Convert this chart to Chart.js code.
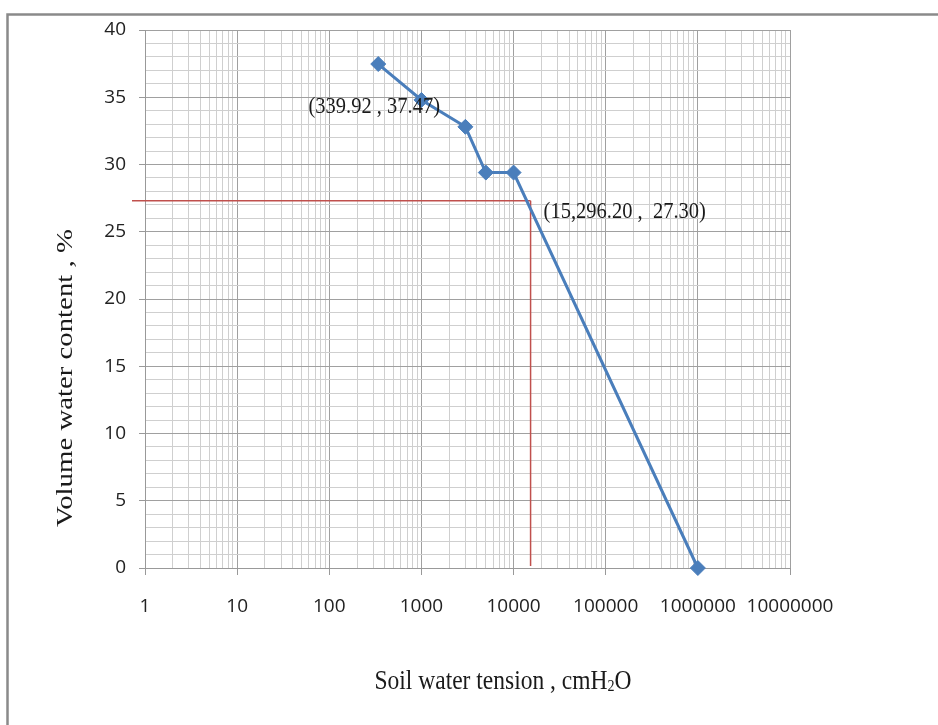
<!DOCTYPE html>
<html>
<head>
<meta charset="utf-8">
<script src="https://cdn.jsdelivr.net/npm/chart.js@4/dist/chart.umd.min.js"></script>
<style>
  html, body { margin: 0; padding: 0; background: #ffffff; }
  canvas { display: block; }
</style>
</head>
<body>
<canvas id="swcc" width="938" height="725"></canvas>
<script>
// Soil water retention curve: tension (cmH2O, log scale) vs volumetric water content (%)
const tensionValues = [339.92, 1000, 3000, 5000, 10000, 1000000];
const waterContent  = [37.47, 34.8, 32.8, 29.4, 29.4, 0];

// Field-capacity reading marked with guide lines
const fieldCapacity = { tension: 15296.20, water: 27.30 };

// Annotation texts
const pointLabels = ['(339.92 , 37.47)', '(15,296.20 ,  27.30)'];

// Axis ticks
const xDecadeLabels = ['1', '10', '100', '1000', '10000', '100000', '1000000', '10000000'];
const yMajorTicks = [0, 5, 10, 15, 20, 25, 30, 35, 40];

const xTitle = ['Soil water tension , cmH', '2', 'O'];
const yTitle = 'Volume water content , %';

const SERIES_BLUE = '#4a7ebb';
const GUIDE_RED = '#c0504d';
const GRID_MAJOR = '#a0a0a0';
const GRID_MINOR = '#cfcfcf';
const TICK_FONT = "'Open Sans', 'Liberation Sans', sans-serif";
const SERIF = "'Liberation Serif', 'Times New Roman', serif";

const isDecade = v => Math.abs(Math.log10(v) - Math.round(Math.log10(v))) < 1e-9;

const decorations = {
  id: 'decorations',
  beforeDatasetsDraw(chart) {
    const { ctx, chartArea, scales: { x, y } } = chart;
    const px = x.getPixelForValue(fieldCapacity.tension);
    const py = y.getPixelForValue(fieldCapacity.water);
    ctx.save();
    ctx.strokeStyle = GUIDE_RED;
    ctx.lineWidth = 1.5;
    ctx.beginPath();
    ctx.moveTo(chartArea.left - 13, py);
    ctx.lineTo(px, py);
    ctx.moveTo(px, py);
    ctx.lineTo(px, chartArea.bottom - 2);
    ctx.stroke();
    ctx.restore();
  },
  afterDraw(chart) {
    const { ctx, scales: { x, y } } = chart;
    ctx.save();

    // outer frame (top and left edges)
    ctx.strokeStyle = '#8a8a8a';
    ctx.lineWidth = 2.5;
    ctx.beginPath();
    ctx.moveTo(chart.width, 14.5);
    ctx.lineTo(7.5, 14.5);
    ctx.lineTo(7.5, chart.height);
    ctx.stroke();

    ctx.fillStyle = '#1a1a1a';
    ctx.textBaseline = 'middle';

    // point annotations
    ctx.font = '20.5px ' + SERIF;
    const p1x = x.getPixelForValue(tensionValues[0]);
    const p1y = y.getPixelForValue(waterContent[0]);
    ctx.save();
    ctx.translate(p1x - 4, p1y + 43);
    ctx.scale(1, 1.17);
    ctx.textAlign = 'center';
    ctx.fillText(pointLabels[0], 0, 0);
    ctx.restore();

    const fx = x.getPixelForValue(fieldCapacity.tension);
    const fy = y.getPixelForValue(fieldCapacity.water);
    ctx.save();
    ctx.translate(fx + 13, fy + 11);
    ctx.scale(1, 1.17);
    ctx.textAlign = 'left';
    ctx.fillText(pointLabels[1], 0, 0);
    ctx.restore();

    // x axis title with subscript
    ctx.save();
    const fs = 23.5;
    ctx.font = fs + 'px ' + SERIF;
    const w0 = ctx.measureText(xTitle[0]).width;
    ctx.font = (fs * 0.6) + 'px ' + SERIF;
    const w1 = ctx.measureText(xTitle[1]).width;
    ctx.font = fs + 'px ' + SERIF;
    const w2 = ctx.measureText(xTitle[2]).width;
    const total = w0 + w1 + w2;
    ctx.translate(503, 682);
    ctx.scale(1, 1.17);
    ctx.textAlign = 'left';
    let cx = -total / 2;
    ctx.fillText(xTitle[0], cx, 0);
    cx += w0;
    ctx.font = (fs * 0.6) + 'px ' + SERIF;
    ctx.fillText(xTitle[1], cx, 4);
    cx += w1;
    ctx.font = fs + 'px ' + SERIF;
    ctx.fillText(xTitle[2], cx, 0);
    ctx.restore();

    // y axis title
    ctx.save();
    ctx.font = '24px ' + SERIF;
    ctx.translate(66, 378);
    ctx.rotate(-Math.PI / 2);
    ctx.scale(1.2, 1);
    ctx.textAlign = 'center';
    ctx.fillText(yTitle, 0, 0);
    ctx.restore();

    ctx.restore();
  }
};

new Chart(document.getElementById('swcc'), {
  type: 'line',
  data: {
    datasets: [{
      data: tensionValues.map((t, i) => ({ x: t, y: waterContent[i] })),
      borderColor: SERIES_BLUE,
      backgroundColor: SERIES_BLUE,
      borderWidth: 3,
      pointStyle: 'rectRot',
      pointRadius: 7.5,
      pointHoverRadius: 7.5,
      pointBorderWidth: 1,
      tension: 0,
      fill: false,
      clip: false
    }]
  },
  options: {
    responsive: false,
    animation: false,
    events: [],
    layout: { padding: { left: 0, top: 30, right: 148, bottom: 0 } },
    plugins: { legend: { display: false }, tooltip: { enabled: false } },
    scales: {
      x: {
        type: 'logarithmic',
        min: 1,
        max: 1e7,
        afterBuildTicks(scale) {
          const ticks = [];
          for (let d = 0; d < xDecadeLabels.length - 1; d++) {
            const base = Number(xDecadeLabels[d]);
            for (let m = 1; m <= 9; m++) ticks.push({ value: base * m });
          }
          ticks.push({ value: Number(xDecadeLabels[xDecadeLabels.length - 1]) });
          scale.ticks = ticks;
        },
        afterFit(scale) { scale.height = 157; },
        ticks: {
          autoSkip: false,
          maxRotation: 0,
          padding: 20,
          color: '#222222',
          font: { family: TICK_FONT, size: 19 },
          callback(value) {
            const idx = xDecadeLabels.indexOf(String(value));
            return idx >= 0 ? xDecadeLabels[idx] : '';
          }
        },
        grid: {
          color: c => (c.tick && isDecade(c.tick.value)) ? GRID_MAJOR : GRID_MINOR,
          tickColor: c => (c.tick && isDecade(c.tick.value)) ? '#999999' : 'rgba(0,0,0,0)',
          tickLength: 7,
          lineWidth: 1
        },
        border: { display: true, color: '#999999', width: 1 }
      },
      y: {
        type: 'linear',
        min: 0,
        max: 40,
        afterBuildTicks(scale) {
          const ticks = [];
          for (let v = yMajorTicks[0]; v <= yMajorTicks[yMajorTicks.length - 1]; v++) ticks.push({ value: v });
          scale.ticks = ticks;
        },
        afterFit(scale) { scale.width = 145; },
        ticks: {
          autoSkip: false,
          padding: 13,
          color: '#222222',
          font: { family: TICK_FONT, size: 19 },
          callback(value) { return yMajorTicks.includes(value) ? String(value) : ''; }
        },
        grid: {
          color: c => (c.tick && yMajorTicks.includes(c.tick.value)) ? GRID_MAJOR : GRID_MINOR,
          tickColor: c => (c.tick && yMajorTicks.includes(c.tick.value)) ? '#999999' : 'rgba(0,0,0,0)',
          tickLength: 6,
          lineWidth: 1
        },
        border: { display: true, color: '#999999', width: 1 }
      }
    }
  },
  plugins: [decorations]
});
</script>
</body>
</html>
